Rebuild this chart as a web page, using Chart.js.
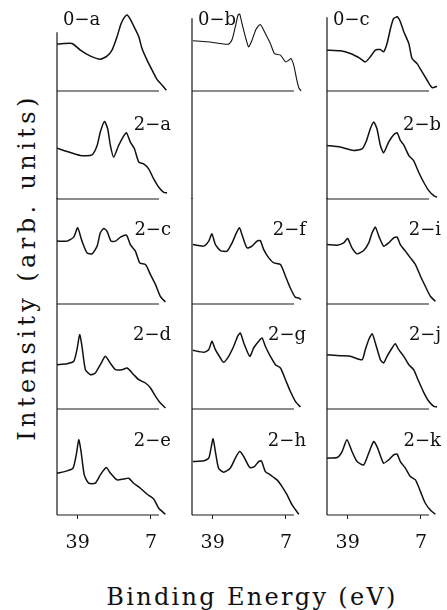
<!DOCTYPE html>
<html>
<head>
<meta charset="utf-8">
<script src="https://cdn.jsdelivr.net/npm/chart.js@4/dist/chart.umd.min.js"></script>
<style>
  body { margin: 0; background: #fff; width: 447px; height: 610px; overflow: hidden; position: relative; font-family: "DejaVu Serif", serif; color: #111; }
  canvas.panel { position: absolute; }
  .title { position: absolute; white-space: nowrap; font-size: 24px; line-height: 1; }
  #ytitle { left: 27px; top: 267px; letter-spacing: 4.4px; transform: translate(-50%, -50%) rotate(-90deg); }
  #xtitle { left: 252px; top: 585px; letter-spacing: 2.3px; transform: translateX(-50%); }
</style>
</head>
<body>
<div id="ytitle" class="title">Intensity (arb. units)</div>
<div id="xtitle" class="title">Binding Energy (eV)</div>
<script>
// binding energy (eV) and intensity (arb. units)
const e0a = [48, 45.1, 41.4, 37.8, 33.4, 29.1, 26.2, 24.0, 21.8, 20.1, 18.6, 17.4, 16.0, 13.8, 12.3, 10.9, 8.7, 6.5, 4.3, 2.1, 0.3];
const i0a = [46.7, 47.3, 47.3, 40.7, 34.7, 31.7, 34.7, 40.7, 54, 66.7, 73.3, 75.7, 71.3, 61.3, 54, 42.3, 30.7, 20.7, 11.3, 5.7, 0.7];

const e0b = [47.6, 41.4, 35.6, 32.0, 30.5, 29.1, 27.9, 27.2, 26.2, 24.7, 23.3, 21.8, 20.1, 18.2, 16.0, 13.8, 12.0, 9.4, 7.2, 5.8, 4.8, 3.6, 2.4, 1.4, 0.4];
const i0b = [50, 49, 47.3, 46.7, 51.3, 64, 75.7, 76.7, 67.3, 54, 44, 50.7, 61.3, 66.3, 57.3, 47.3, 37.3, 35.7, 29, 30.7, 32.3, 25.7, 12.3, 3.3, 0];

const e0c = [48, 42.2, 37.8, 33.4, 31.3, 29.1, 26.9, 24.7, 23.3, 21.8, 20.3, 18.9, 17.4, 16.0, 14.5, 12.3, 10.9, 8.7, 6.5, 4.3, 2.1, 0];
const i0c = [40.7, 40, 37.3, 32.3, 29, 34, 40.7, 41.3, 39, 47.3, 62.3, 72.3, 74, 69, 59, 47.3, 32.3, 27.3, 19, 10.7, 3.3, 4.7];

const e2a = [48, 43.6, 37.8, 32.7, 30.5, 29.1, 27.3, 25.9, 24.7, 23.3, 21.1, 19.2, 17.7, 16.0, 14.2, 12.3, 10.2, 8.0, 5.8, 3.6, 1.4, 0];
const i2a = [50.7, 47.3, 43.3, 44, 53.3, 66.7, 77.3, 70, 53.3, 41.7, 53.3, 61.7, 66, 56.7, 50, 36.7, 35, 30, 20, 11.7, 6.7, 6];

const e2b = [48, 42.2, 36.4, 32.7, 31.0, 29.1, 27.6, 26.2, 24.7, 23.3, 21.1, 18.9, 17.4, 16.0, 14.5, 12.3, 10.2, 8.0, 5.8, 3.6, 1.4, 0];
const i2b = [53.3, 51.7, 48.3, 50, 56.7, 70, 76.7, 70, 53.3, 46, 56.7, 64, 66, 58.3, 54, 43.3, 38.3, 26.7, 16.7, 8.3, 3.3, 1.7];

const e2c = [48, 43.6, 40.7, 39.0, 37.1, 34.9, 32.7, 30.5, 29.1, 27.6, 26.2, 24.4, 22.5, 20.3, 17.7, 16.0, 13.8, 11.9, 9.4, 7.2, 5.0, 2.9, 0.7];
const i2c = [62.7, 62.7, 66.7, 76, 62.7, 51, 50, 57.7, 71, 75.3, 72.7, 62.7, 62.7, 66.7, 68.7, 59.3, 52.7, 41, 39.3, 29.3, 19.3, 7.7, 2];

const e2f = [47.6, 42.9, 40.7, 39.3, 37.8, 35.6, 32.7, 30.5, 28.6, 27.3, 26.2, 24.0, 21.8, 19.6, 18.2, 16.7, 14.5, 12.3, 9.4, 7.2, 5.1, 2.9, 1.4, 0.4];
const i2f = [59.3, 57.7, 62.7, 70, 59.3, 53.3, 52.7, 61, 71, 76, 69.3, 56, 57.7, 62.7, 63.3, 54.3, 46, 41, 39.3, 27.7, 16, 6.7, 6, 4.3];

const e2i = [48, 43.6, 40.7, 39.0, 37.1, 34.9, 32.0, 29.8, 28.3, 26.9, 25.4, 23.3, 21.1, 18.9, 17.4, 16.0, 13.8, 11.6, 9.4, 7.2, 5.1, 2.9, 0.7];
const i2i = [59.3, 58.7, 61, 65.3, 56, 50, 53.3, 61, 71, 76.7, 67.7, 57.7, 61, 66, 66.7, 59.3, 52.7, 46, 39.3, 27.7, 17.7, 7.7, 2.7];

const e2d = [48, 43.6, 40.7, 39.3, 38.1, 37.1, 35.6, 33.4, 31.3, 29.1, 26.9, 25.0, 22.5, 19.6, 17.4, 14.5, 12.3, 9.4, 7.2, 5.0, 2.9, 0.7];
const i2d = [44.3, 45.3, 47.7, 59.3, 74.3, 62.7, 39.3, 34.3, 36, 44.3, 52.7, 46.7, 39.3, 39.3, 41, 34.3, 29.3, 26, 21, 12.7, 6, 1];

const e2g = [47.6, 42.9, 40.7, 39.3, 37.8, 35.6, 34.2, 32.0, 29.8, 28.1, 26.9, 25.4, 22.8, 21.1, 18.9, 17.4, 16.0, 13.8, 11.6, 9.4, 7.2, 5.1, 2.9, 0.7];
const i2g = [58.7, 56.7, 59.3, 67.7, 59.3, 51, 46.7, 52.7, 62.7, 72.7, 76, 66, 52.7, 61, 67.7, 71, 62.7, 52.7, 44.3, 41, 29.3, 17.7, 7.7, 2];

const e2j = [48, 42.2, 37.8, 32.7, 31.3, 29.8, 28.3, 26.9, 24.7, 23.3, 21.8, 19.6, 18.2, 16.7, 14.5, 12.3, 10.2, 8.0, 5.8, 3.6, 1.4, 0];
const i2j = [54.3, 53.3, 52.7, 49.3, 59.3, 69.3, 75.3, 66, 49.3, 46, 52.7, 61, 65.3, 59.3, 52.7, 44.3, 39.3, 27.7, 16.7, 7.7, 2.7, 2];

const e2e = [48, 43.6, 41.0, 39.6, 38.5, 37.5, 36.1, 34.2, 31.3, 29.1, 26.5, 24.7, 21.8, 18.9, 16.7, 14.5, 11.6, 8.7, 5.8, 3.6, 0.7];
const i2e = [41.7, 44, 46.7, 60, 75, 63.3, 40, 31.7, 31.7, 40, 47.3, 41.7, 35, 36, 36.7, 31.7, 26.7, 20.7, 16, 6.7, 0.7];

const e2h = [47.6, 42.9, 40.7, 39.7, 38.8, 37.8, 36.4, 34.2, 31.3, 29.1, 27.2, 25.4, 22.8, 20.8, 18.9, 17.7, 16.0, 13.8, 10.9, 8.7, 6.5, 4.3, 1.4];
const i2h = [53.3, 54, 56.7, 66.7, 76, 63.3, 46.7, 42.7, 46.7, 56.7, 63.3, 58.3, 47.3, 48.3, 53.3, 54, 43.3, 40, 35, 28.3, 20, 10, 0.7];

const e2k = [48, 43.6, 41.4, 39.3, 37.1, 34.9, 32.0, 29.8, 27.6, 25.9, 23.3, 21.1, 18.9, 17.4, 16.0, 13.8, 11.6, 9.4, 7.2, 5.1, 2.9, 0.7];
const i2k = [56.7, 57.3, 63.3, 75, 63.3, 53.3, 50, 61.7, 73.3, 66.7, 51.7, 55, 60, 60.7, 53.3, 46.7, 38.3, 35, 23.3, 11.7, 5, 0.7];

const energyTicks = [39, 7];

// [label, column, row, energies, intensities]
const panels = [
    ['0−a', 0, 0, e0a, i0a], ['0−b', 1, 0, e0b, i0b], ['0−c', 2, 0, e0c, i0c],
    ['2−a', 0, 1, e2a, i2a], ['', 1, 1, [], []],     ['2−b', 2, 1, e2b, i2b],
    ['2−c', 0, 2, e2c, i2c], ['2−f', 1, 2, e2f, i2f], ['2−i', 2, 2, e2i, i2i],
    ['2−d', 0, 3, e2d, i2d], ['2−g', 1, 3, e2g, i2g], ['2−j', 2, 3, e2j, i2j],
    ['2−e', 0, 4, e2e, i2e], ['2−h', 1, 4, e2h, i2h], ['2−k', 2, 4, e2k, i2k]
];

// layout
const colLeft = [57, 192, 327];
const baselines = [90.7, 198.3, 304, 409, 514.7];
const topAxisStart = [32, 18, 17];   // where the left rule of the first row begins (page y)
const plotW = 110;
const padL = 3, padR = 12;
const axisH = 40;

const frame = {
    id: 'frame',
    afterDatasetsDraw(chart, args, opts) {
        const { ctx, chartArea: a, scales: { x, y } } = chart;
        const y0 = y.getPixelForValue(0);
        const yTop = opts.ruleFrom != null ? y0 - opts.ruleFrom : a.top;
        ctx.save();
        ctx.strokeStyle = '#1a1a1a';
        ctx.lineWidth = 1.2;
        ctx.beginPath();
        ctx.moveTo(a.left, yTop);
        ctx.lineTo(a.left, a.bottom);
        if (opts.base) {
            ctx.moveTo(a.left, y0);
            ctx.lineTo(x.getPixelForValue(3.5), y0);
        }
        ctx.stroke();
        if (opts.label) {
            ctx.font = '18px "DejaVu Serif"';
            ctx.fillStyle = '#111';
            ctx.textBaseline = 'middle';
            if (opts.top) {
                ctx.textAlign = 'left';
                ctx.fillText(opts.label, a.left + 6, y0 - 71);
            } else {
                ctx.textAlign = 'right';
                ctx.fillText(opts.label, a.left + 114, y0 - 74);
            }
        }
        ctx.restore();
    }
};

panels.forEach(([label, c, r, en, inten]) => {
    const areaH = r === 0 ? baselines[0] - 17 : baselines[r] - baselines[r - 1];
    const padT = r === 0 ? 20 : 2;
    const bottomRow = r === baselines.length - 1;
    const padB = bottomRow ? 0 : 3;
    const h = Math.round(padT + areaH + padB + (bottomRow ? axisH : 0));
    const w = padL + plotW + padR;

    const cv = document.createElement('canvas');
    cv.className = 'panel';
    cv.width = w; cv.height = h;
    cv.style.width = w + 'px'; cv.style.height = h + 'px';
    cv.style.left = (colLeft[c] - padL) + 'px';
    cv.style.top = (baselines[r] - areaH - padT) + 'px';
    document.body.appendChild(cv);

    new Chart(cv.getContext('2d'), {
        type: 'line',
        data: {
            datasets: [{
                data: en.map((v, k) => ({ x: v, y: inten[k] })),
                borderColor: '#111',
                borderWidth: label === '0−b' ? 1.1 : 1.5,
                pointRadius: 0,
                tension: 0.2,
                fill: false,
                clip: false
            }]
        },
        options: {
            responsive: false,
            maintainAspectRatio: false,
            animation: false,
            devicePixelRatio: 1,
            layout: { autoPadding: false, padding: { left: padL, right: padR, top: padT, bottom: padB } },
            plugins: {
                legend: { display: false },
                tooltip: { enabled: false },
                frame: {
                    base: label !== '', label: label, top: r === 0,
                    ruleFrom: r === 0 ? baselines[0] - topAxisStart[c] : null
                }
            },
            scales: {
                x: {
                    type: 'linear', reverse: true, min: 0, max: 48,
                    display: bottomRow,
                    border: { display: false },
                    grid: { drawOnChartArea: false, drawTicks: true, tickLength: 4, color: '#222' },
                    afterBuildTicks: s => { s.ticks = energyTicks.map(v => ({ value: v })); },
                    afterFit: s => {
                        s.height = bottomRow ? axisH : 0;
                        s.paddingLeft = 0; s.paddingRight = 0;
                    },
                    ticks: {
                        autoSkip: false, maxRotation: 0, padding: 13, color: '#111',
                        font: { family: 'DejaVu Serif', size: 19 }
                    }
                },
                y: { display: false, min: 0, max: areaH }
            }
        },
        plugins: [frame]
    });
});
</script>
</body>
</html>
